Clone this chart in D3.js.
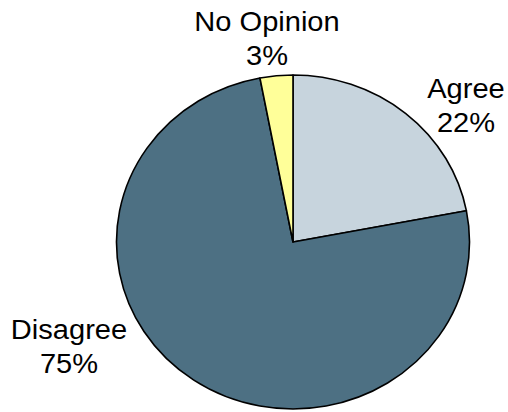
<!DOCTYPE html>
<html><head><meta charset="utf-8">
<script src="https://cdn.jsdelivr.net/npm/d3@7/dist/d3.min.js"></script>
<style>html,body{margin:0;padding:0;background:#fff;}svg{display:block;}</style>
</head><body>
<script>
const categories = ["Agree", "Disagree", "No Opinion"];
const values = [22, 75, 3];
const labels = ["22%", "75%", "3%"];
const colors = ["#C7D4DD", "#4D7083", "#FFFF99"];

const W = 508, H = 412;
const cx = 293, cy = 242, ry = 167, sx = 176.5 / 167;

const svg = d3.select("body").append("svg").attr("width", W).attr("height", H);

const pie = d3.pie().sort(null).value(d => d);
const arcs = pie(values);
const arc = d3.arc().innerRadius(0).outerRadius(ry);

const g = svg.append("g").attr("transform", `translate(${cx},${cy}) scale(${sx},1)`);
g.selectAll("path").data(arcs).join("path")
  .attr("d", arc)
  .attr("fill", (d, i) => colors[i])
  .attr("stroke", "#000")
  .attr("stroke-width", 1.6)
  .attr("vector-effect", "non-scaling-stroke")
  .attr("stroke-linejoin", "round");

const labelPos = [
  {x: 466, y: 98},
  {x: 69, y: 339},
  {x: 267, y: 31}
];
const lg = svg.append("g").attr("font-family", "'Liberation Sans', Arial, sans-serif")
  .attr("font-size", 27.5).attr("fill", "#000").attr("text-anchor", "middle");
categories.forEach((c, i) => {
  const t = lg.append("text")
    .attr("transform", `translate(${labelPos[i].x},${labelPos[i].y}) scale(${sx},1)`);
  t.append("tspan").attr("x", 0).attr("y", 0).text(c);
  t.append("tspan").attr("x", 0).attr("dy", 34).text(labels[i]);
});
</script>
</body></html>
